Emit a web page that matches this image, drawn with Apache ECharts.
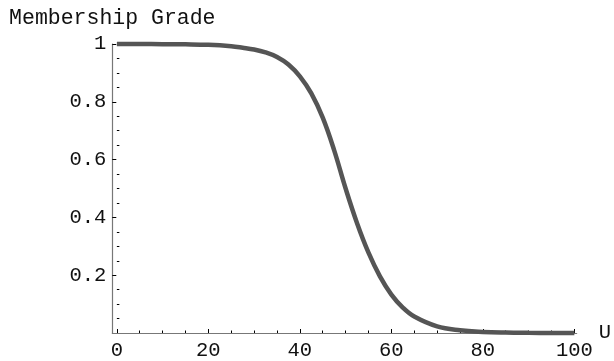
<!DOCTYPE html>
<html>
<head>
<meta charset="utf-8">
<script src="https://cdn.jsdelivr.net/npm/echarts@6/dist/echarts.min.js"></script>
<style>html,body{margin:0;padding:0;background:#fff;}#c{width:614px;height:361px;}</style>
</head>
<body>
<div id="c"></div>
<script>
const uValues = [0, 5, 10, 15, 20, 25, 27.5, 30, 32.5, 35, 37.5, 40, 42.5, 45, 47.5, 50, 52.5, 55, 57.5, 60, 62.5, 65, 70, 75, 80, 85, 90, 95, 100];
const gradeValues = [1.0, 0.9998, 0.9995, 0.9988, 0.997, 0.992, 0.987, 0.981, 0.971, 0.955, 0.929, 0.888, 0.829, 0.745, 0.632, 0.5, 0.38, 0.278, 0.196, 0.133, 0.088, 0.057, 0.023, 0.0095, 0.0038, 0.0015, 0.0006, 0.0002, 0.0001];
const xTickLabels = [0, 20, 40, 60, 80, 100];
const xMinorTicks = [5, 10, 15, 25, 30, 35, 45, 50, 55, 65, 70, 75, 85, 90, 95];
const yTickLabels = [0.2, 0.4, 0.6, 0.8, 1];
const yMinorTicks = [0.05, 0.1, 0.15, 0.25, 0.3, 0.35, 0.45, 0.5, 0.55, 0.65, 0.7, 0.75, 0.85, 0.9, 0.95];

const FONT = 'Liberation Mono';
const FS = 20.5;
const chart = echarts.init(document.getElementById('c'), null, {renderer: 'canvas'});
const data = uValues.map((u, i) => [u, gradeValues[i]]);

chart.setOption({
  animation: false,
  backgroundColor: '#fff',
  grid: {left: 112.3, right: 32.7, top: 44, bottom: 27.7, containLabel: false},
  xAxis: [{
    type: 'value', min: -1, max: 100.5,
    name: 'U', nameLocation: 'end', nameGap: 19,
    nameTextStyle: {fontFamily: FONT, fontSize: FS, color: '#111', verticalAlign: 'middle', align: 'left'},
    axisLine: {show: true, onZero: false, lineStyle: {color: '#777', width: 1.2}},
    axisTick: {show: true, inside: true, length: 4, lineStyle: {color: '#000', width: 1}, customValues: xTickLabels},
    axisLabel: {show: true, margin: 7, fontFamily: FONT, fontSize: FS, color: '#111', customValues: xTickLabels},
    splitLine: {show: false}
  }, {
    type: 'value', min: -1, max: 100.5, position: 'bottom',
    axisLine: {show: false},
    axisTick: {show: true, inside: true, length: 2.5, lineStyle: {color: '#000', width: 1}, customValues: xMinorTicks},
    axisLabel: {show: false, customValues: xMinorTicks},
    splitLine: {show: false}
  }],
  yAxis: [{
    type: 'value', min: 0, max: 1,
    name: 'Membership Grade', nameLocation: 'end', nameGap: 15,
    nameTextStyle: {fontFamily: FONT, fontSize: 21.5, color: '#111', align: 'center'},
    axisLine: {show: true, onZero: false, lineStyle: {color: '#777', width: 1.2}},
    axisTick: {show: true, inside: true, length: 4, lineStyle: {color: '#000', width: 1}, customValues: yTickLabels},
    axisLabel: {show: true, margin: 6, fontFamily: FONT, fontSize: FS, color: '#111', customValues: yTickLabels,
      formatter: v => String(Math.round(v * 10) / 10)},
    splitLine: {show: false}
  }, {
    type: 'value', min: 0, max: 1, position: 'left',
    axisLine: {show: false},
    axisTick: {show: true, inside: true, length: 2.5, lineStyle: {color: '#000', width: 1}, customValues: yMinorTicks},
    axisLabel: {show: false, customValues: yMinorTicks},
    splitLine: {show: false}
  }],
  series: [{
    type: 'line', xAxisIndex: 0, yAxisIndex: 0,
    data: data, smooth: 0.4, showSymbol: false, clip: false,
    lineStyle: {color: '#555555', width: 4.5}
  }]
});
</script>
</body>
</html>
